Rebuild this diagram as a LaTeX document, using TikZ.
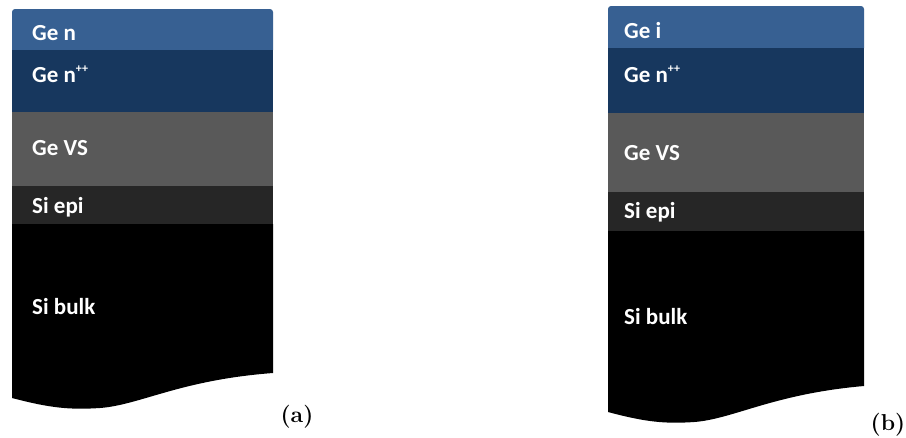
\documentclass[tikz,border=0pt]{standalone}
\usepackage{fontspec}
\newfontfamily\layerfont{Carlito}
\definecolor{gelight}{HTML}{376092}
\definecolor{gedark}{HTML}{17375E}
\definecolor{gevs}{HTML}{595959}
\definecolor{siepi}{HTML}{262626}
\definecolor{sibulk}{HTML}{000000}
\tikzset{
  layertext/.style={anchor=base west, inner sep=0pt, text=white,
    font=\layerfont\bfseries\fontsize{23}{23}\selectfont},
  panellabel/.style={inner sep=0pt, font=\bfseries\fontsize{23}{23}\selectfont}
}
\newcommand{\dopp}{n\raisebox{0.42em}{\fontsize{12}{12}\selectfont ++}}
\begin{document}
\begin{tikzpicture}[x=1pt,y=-1pt]
\useasboundingbox (0,0) rectangle (906,437);

% ---------- stack (a) ----------
\fill[gelight,rounded corners=3] (12,50) -- (12,9) -- (273,9) -- (273,50);
\fill[gedark] (12,50) rectangle (273,112);
\fill[gevs] (12,112) rectangle (273,186);
\fill[siepi] (12,186) rectangle (273,224);
\fill[sibulk] (12,224) -- (273,224) -- (273,373)
  .. controls (180,380) and (140,405) .. (100,408)
  .. controls (70,410) and (50,408) .. (12,398) -- cycle;

\node[layertext] (an)   at (32,40)  {Ge n};
\node[layertext] (anpp) at (32,82)  {Ge \dopp};
\node[layertext] (avs)  at (32,155) {Ge VS};
\node[layertext] (aepi) at (32,213) {Si epi};
\node[layertext] (abulk) at (32,314) {Si bulk};
\node[panellabel] (la) at (297,417) {(a)};

% ---------- stack (b) ----------
\fill[gelight,rounded corners=3] (608,48) -- (608,6) -- (864,6) -- (864,48);
\fill[gedark] (608,48) rectangle (864,113);
\fill[gevs] (608,113) rectangle (864,192);
\fill[siepi] (608,192) rectangle (864,231);
\fill[sibulk] (608,231) -- (864,231) -- (864,386)
  .. controls (772.8,394) and (733.5,419) .. (694.3,422)
  .. controls (664.9,424) and (645.3,422) .. (608,412) -- cycle;

\node[layertext] (bi)   at (624,38)  {Ge i};
\node[layertext] (bnpp) at (624,82)  {Ge \dopp};
\node[layertext] (bvs)  at (624,160) {Ge VS};
\node[layertext] (bepi) at (624,218) {Si epi};
\node[layertext] (bbulk) at (624,324) {Si bulk};
\node[panellabel] (lb) at (888,425) {(b)};
\end{tikzpicture}
\end{document}
